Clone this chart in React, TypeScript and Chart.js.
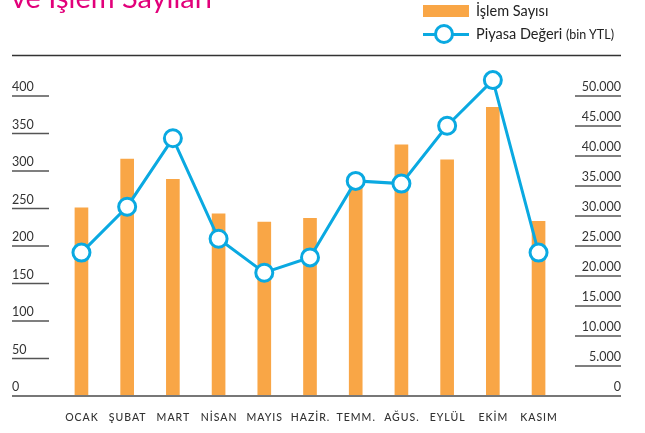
import React, { useEffect, useRef } from "react";
import { Chart, registerables } from "chart.js";

Chart.register(...registerables);

const months = ["OCAK", "ŞUBAT", "MART", "NİSAN", "MAYIS", "HAZİR.", "TEMM.", "AĞUS.", "EYLÜL", "EKİM", "KASIM"];
const islemSayisi = [251, 316, 289, 243, 232, 237, 280, 335, 315, 385, 233];
const piyasaDegeri = [23900, 31550, 42950, 26200, 20550, 23100, 35850, 35400, 45050, 52650, 23900];
const leftTicks = [0, 50, 100, 150, 200, 250, 300, 350, 400];
const rightTicks = [0, 5000, 10000, 15000, 20000, 25000, 30000, 35000, 40000, 45000, 50000];

const ORANGE = "#F9A646";
const CYAN = "#0AA9E1";
const MAGENTA = "#E2007A";
const FONT = "Lato, 'Open Sans', sans-serif";

const fmt = (n: number) => String(n).replace(/\B(?=(\d{3})+(?!\d))/g, ".");

const decoPlugin = {
  id: "deco",
  afterDraw(chart: any) {
    const ctx = chart.ctx as CanvasRenderingContext2D;
    const y = chart.scales.y;
    const y1 = chart.scales.y1;
    const x = chart.scales.x;
    ctx.save();
    // top rule
    ctx.strokeStyle = "#333";
    ctx.lineWidth = 1.5;
    ctx.beginPath();
    ctx.moveTo(12, 55.5);
    ctx.lineTo(621, 55.5);
    ctx.stroke();
    // left ticks
    ctx.font = `12.5px ${FONT}`;
    ctx.fillStyle = "#333";
    ctx.textBaseline = "alphabetic";
    ctx.textAlign = "left";
    leftTicks.forEach((v) => {
      const py = y.getPixelForValue(v);
      if (v !== 0) {
        ctx.strokeStyle = "#555";
        ctx.lineWidth = 1.5;
        ctx.beginPath();
        ctx.moveTo(12, py);
        ctx.lineTo(49, py);
        ctx.stroke();
      }
      ctx.fillText(String(v), 12, py - 5);
    });
    // right ticks
    ctx.textAlign = "right";
    rightTicks.forEach((v) => {
      const py = y1.getPixelForValue(v);
      if (v !== 0) {
        ctx.strokeStyle = "#555";
        ctx.lineWidth = 1.5;
        ctx.beginPath();
        ctx.moveTo(575, py);
        ctx.lineTo(621, py);
        ctx.stroke();
      }
      ctx.fillText(fmt(v), 621, py - 5);
    });
    // baseline
    const by = y.getPixelForValue(0);
    ctx.strokeStyle = "#777";
    ctx.lineWidth = 2;
    ctx.beginPath();
    ctx.moveTo(12, by);
    ctx.lineTo(621, by);
    ctx.stroke();
    // x labels
    ctx.font = `500 10.5px ${FONT}`;
    (ctx as any).letterSpacing = "1px";
    ctx.fillStyle = "#333";
    ctx.textAlign = "center";
    ctx.textBaseline = "middle";
    months.forEach((m, i) => {
      ctx.fillText(m, x.getPixelForValue(i) + 0.5, 418);
    });
    ctx.restore();
  },
};

export default function App() {
  const ref = useRef<HTMLCanvasElement | null>(null);
  useEffect(() => {
    if (!ref.current) return;
    const chart = new Chart(ref.current, {
      type: "bar",
      data: {
        labels: months,
        datasets: [
          {
            type: "line",
            label: "Piyasa Değeri (bin YTL)",
            data: piyasaDegeri,
            yAxisID: "y1",
            borderColor: CYAN,
            borderWidth: 3,
            pointRadius: 8.5,
            pointBorderWidth: 3,
            pointBackgroundColor: "#fff",
            pointBorderColor: CYAN,
            tension: 0,
            clip: false as any,
            order: 0,
          } as any,
          {
            type: "bar",
            label: "İşlem Sayısı",
            data: islemSayisi,
            yAxisID: "y",
            backgroundColor: ORANGE,
            barThickness: 13,
            order: 1,
          },
        ],
      },
      options: {
        animation: false,
        responsive: false,
        devicePixelRatio: 1,
        layout: { padding: { left: 58.6, right: 83.6, top: 66, bottom: 37 } },
        plugins: { legend: { display: false }, tooltip: { enabled: false }, title: { display: false } },
        scales: {
          x: { type: "category", offset: true, display: false },
          y: { min: 0, max: 440, display: false },
          y1: { min: 0, max: 55000, display: false, position: "right" },
        },
      },
      plugins: [decoPlugin],
    });
    return () => chart.destroy();
  }, []);

  return (
    <div style={{ position: "fixed", left: 0, top: 0, width: 645, height: 433, overflow: "hidden", background: "#fff", fontFamily: FONT }}>
      <canvas ref={ref} width={645} height={433} style={{ position: "absolute", left: 0, top: 0, width: 645, height: 433 }} />
      <div style={{ position: "absolute", left: 11, top: -18.2, fontSize: 29, lineHeight: "29px", color: MAGENTA, whiteSpace: "nowrap" }}>
        ve İşlem Sayıları
      </div>
      <div style={{ position: "absolute", left: 423, top: 5, width: 46, height: 12, background: ORANGE }} />
      <div style={{ position: "absolute", left: 476, top: 1, fontSize: 14.5, lineHeight: "20px", color: "#222", whiteSpace: "nowrap" }}>
        İşlem Sayısı
      </div>
      <div style={{ position: "absolute", left: 423, top: 33, width: 46, height: 3, background: CYAN }} />
      <div style={{ position: "absolute", left: 433.5, top: 24, width: 14, height: 14, border: `3.5px solid ${CYAN}`, borderRadius: "50%", background: "#fff" }} />
      <div style={{ position: "absolute", left: 476, top: 24, fontSize: 14.5, lineHeight: "20px", color: "#222", whiteSpace: "nowrap" }}>
        Piyasa Değeri <span style={{ fontSize: 12.5 }}>(bin YTL)</span>
      </div>
    </div>
  );
}
